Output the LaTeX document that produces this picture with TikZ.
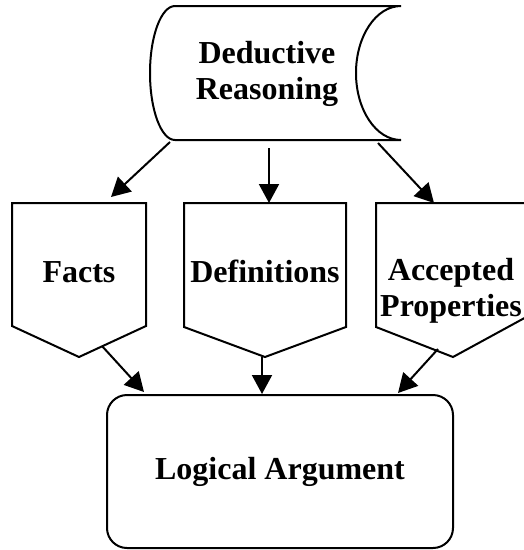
\documentclass[tikz,border=0pt]{standalone}
\usepackage{fontspec}
\setmainfont{Liberation Serif}
\usetikzlibrary{arrows.meta}
\begin{document}
\begin{tikzpicture}[x=1pt, y=-1pt,
  outline/.style={line width=2pt, line join=miter},
  box/.style={draw=none, inner sep=0pt, outer sep=0pt},
  lbl/.style={font=\fontsize{32}{36}\selectfont\bfseries, align=center, inner sep=0pt},
  arr/.style={line width=2pt, -{Triangle[length=19pt, width=20pt]}}]
\useasboundingbox (0,0) rectangle (524,550);
\clip (0,0) rectangle (524,550);
% Shapes
\node[box, minimum width=251pt, minimum height=134pt] (reason) at (275.5,73) {};
\node[box, minimum width=134pt, minimum height=154pt] (facts) at (79,280) {};
\node[box, minimum width=162pt, minimum height=154pt] (defs) at (265,280) {};
\node[box, minimum width=154pt, minimum height=154pt] (props) at (453,280) {};
\node[outline, draw, rounded corners=20pt, minimum width=346pt, minimum height=153pt, lbl] (logic) at (280,471.5) {Logical Argument};
\draw[outline] ([xshift=25pt]reason.north west) -- (reason.north east)
  arc[start angle=90, end angle=270, x radius=45pt, y radius=67pt]
  -- ([xshift=25pt]reason.south west)
  arc[start angle=270, end angle=90, x radius=25pt, y radius=67pt] -- cycle;
\draw[outline] (facts.north west) -- (facts.north east) -- ([yshift=31pt]facts.south east)
  -- (facts.south) -- ([yshift=31pt]facts.south west) -- cycle;
\draw[outline] (defs.north west) -- (defs.north east) -- ([yshift=30pt]defs.south east)
  -- (defs.south) -- ([yshift=30pt]defs.south west) -- cycle;
\draw[outline] (props.north west) -- (props.north east) -- ([yshift=42pt]props.south east)
  -- (props.south) -- ([yshift=30pt]props.south west) -- cycle;
% Labels
\node[lbl] (reason-t) at (267,74) {Deductive\\Reasoning};
\node[lbl, anchor=base] (facts-t) at (79,282) {Facts};
\node[lbl, anchor=base] (defs-t) at (265,282) {Definitions};
\node[lbl] (props-t) at (451,291) {Accepted\\Properties};
% Arrows
\draw[arr] ([xshift=20pt, yshift=-2pt]reason.south west) -- ([xshift=32pt, yshift=6pt]facts.north);
\draw[arr] ([xshift=119pt, yshift=-8pt]reason.south west) -- ([xshift=4pt]defs.north);
\draw[arr] ([xshift=228pt, yshift=-3pt]reason.south west) -- ([xshift=-19pt]props.north);
\draw[arr] ([xshift=23pt, yshift=11pt]facts.south) -- ([xshift=38pt, yshift=2pt]logic.north west);
\draw[arr] ([xshift=-3pt]defs.south) -- ([xshift=-18pt]logic.north);
\draw[arr] ([xshift=-15pt, yshift=8pt]props.south) -- ([xshift=-56pt, yshift=1pt]logic.north east);
\end{tikzpicture}
\end{document}
